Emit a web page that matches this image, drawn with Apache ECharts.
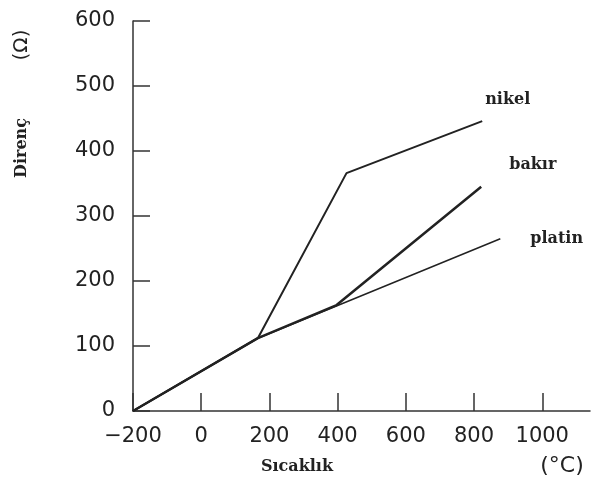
<!DOCTYPE html>
<html>
<head>
<meta charset="utf-8">
<script src="https://cdn.jsdelivr.net/npm/echarts@6/dist/echarts.min.js"></script>
<style>html,body{margin:0;padding:0;background:#fff}#c{width:603px;height:490px}</style>
</head>
<body>
<div id="c"></div>
<script>
// Temperature (°C) and resistance (Ω)
const xTicks = [-200, 0, 200, 400, 600, 800, 1000];
const yTicks = [0, 100, 200, 300, 400, 500, 600];
const platinT = [-200, 166, 877];
const platinR = [0, 112, 265];
const bakirT = [-200, 166, 397, 821];
const bakirR = [0, 112, 163, 345];
const nikelT = [-200, 166, 426, 824];
const nikelR = [0, 112, 366, 446];

const zip = (a, b) => a.map((v, i) => [v, b[i]]);
const ink = '#222';
const serif = '"DejaVu Serif", "Liberation Serif", serif';
const sans = '"DejaVu Sans", sans-serif';

const chart = echarts.init(document.getElementById('c'), null, {renderer: 'canvas'});
function lineSeries(name, data, width, off) {
  return {
    name, type: 'line', data, showSymbol: false, symbol: 'none',
    lineStyle: {color: ink, width},
    animation: false,
    endLabel: {
      show: true, formatter: name, color: ink,
      fontFamily: serif, fontSize: 16, fontWeight: 'bold',
      align: 'left', verticalAlign: 'middle', distance: 0, offset: off
    }
  };
}
chart.setOption({
  animation: false,
  grid: {left: 133, right: 13, top: 21, bottom: 79},
  xAxis: {
    type: 'value', min: -200, max: 1140,
    axisLine: {show: true, onZero: false, lineStyle: {color: '#333', width: 1.5}},
    axisTick: {show: true, inside: true, length: 18, customValues: xTicks, lineStyle: {color: '#333', width: 1.5}},
    axisLabel: {customValues: xTicks, color: ink, fontFamily: sans, fontSize: 21, margin: 15,
      formatter: v => String(v).replace('-', '\u2212')},
    splitLine: {show: false}
  },
  yAxis: {
    type: 'value', min: 0, max: 600, interval: 100,
    axisLine: {show: true, onZero: false, lineStyle: {color: '#333', width: 1.5}},
    axisTick: {show: true, inside: true, length: 17, customValues: yTicks, lineStyle: {color: '#333', width: 1.5}},
    axisLabel: {customValues: yTicks, color: ink, fontFamily: sans, fontSize: 21, margin: 18},
    splitLine: {show: false}
  },
  series: [
    lineSeries('nikel', zip(nikelT, nikelR), 2, [3, -21]),
    lineSeries('bakır', zip(bakirT, bakirR), 2.5, [28, -22]),
    lineSeries('platin', zip(platinT, platinR), 1.5, [30, 0])
  ],
  graphic: [
    {type: 'text', x: 297, y: 467, style: {text: 'Sıcaklık', fontFamily: serif, fontSize: 16, fontWeight: 'bold', fill: ink, textAlign: 'center', textVerticalAlign: 'middle'}},
    {type: 'text', x: 562, y: 466, style: {text: '(°C)', fontFamily: sans, fontSize: 22, fill: ink, textAlign: 'center', textVerticalAlign: 'middle'}},
    {type: 'text', x: 22, y: 148, rotation: Math.PI / 2, style: {text: 'Direnç', fontFamily: serif, fontSize: 16, fontWeight: 'bold', fill: ink, textAlign: 'center', textVerticalAlign: 'middle'}},
    {type: 'text', x: 22, y: 45, rotation: Math.PI / 2, style: {text: '(Ω)', fontFamily: sans, fontSize: 20, fill: ink, textAlign: 'center', textVerticalAlign: 'middle'}}
  ]
});
</script>
</body>
</html>
